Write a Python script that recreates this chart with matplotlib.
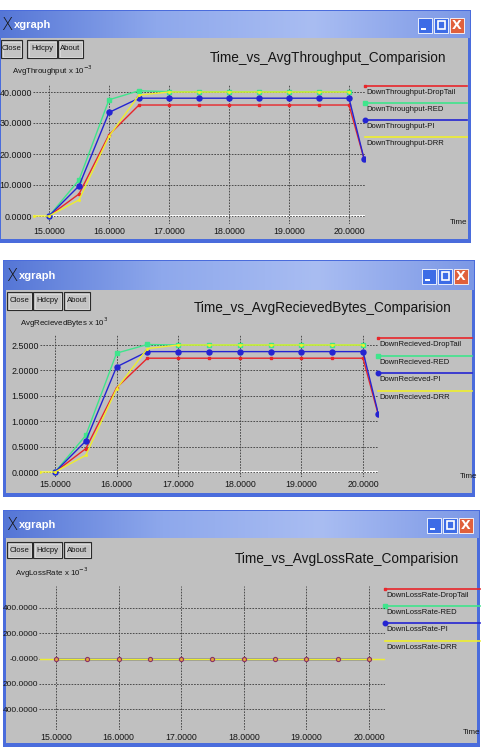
import numpy as np
import matplotlib
matplotlib.use("Agg")
import matplotlib.pyplot as plt
from matplotlib.patches import Rectangle
from matplotlib.lines import Line2D
from matplotlib.colors import LinearSegmentedColormap

W, H = 483, 751
NARROW = ["Liberation Sans Narrow", "Liberation Sans", "DejaVu Sans"]
nan = np.nan

# ---- data ----
time = [14.75, 15.0, 15.5, 16.0, 16.5, 17.0, 17.5, 18.0, 18.5, 19.0, 19.5, 20.0, 20.25]

tp_droptail = [nan, 0.0, 7.1, 26.2, 35.8, 35.8, 35.8, 35.8, 35.8, 35.8, 35.8, 35.8, 18.5]
tp_red      = [nan, 0.0, 11.6, 37.5, 40.4, 40.1, 40.1, 40.1, 40.1, 40.1, 40.1, 40.1, nan]
tp_pi       = [nan, 0.0, 9.7, 33.4, 38.0, 38.0, 38.0, 38.0, 38.0, 38.0, 38.0, 38.0, 18.5]
tp_drr      = [0.0, 0.0, 5.2, 25.7, 39.0, 40.0, 40.0, 40.0, 40.0, 40.0, 40.0, 40.0, nan]

rb_droptail = [nan, 0.0, 0.46, 1.66, 2.24, 2.24, 2.24, 2.24, 2.24, 2.24, 2.24, 2.24, 1.12]
rb_red      = [nan, 0.0, 0.72, 2.34, 2.51, 2.50, 2.50, 2.50, 2.50, 2.50, 2.50, 2.50, nan]
rb_pi       = [nan, 0.0, 0.61, 2.07, 2.37, 2.37, 2.37, 2.37, 2.37, 2.37, 2.37, 2.37, 1.14]
rb_drr      = [0.0, 0.0, 0.33, 1.64, 2.43, 2.50, 2.50, 2.50, 2.50, 2.50, 2.50, 2.50, nan]

lr_droptail = [nan, 0, 0, 0, 0, 0, 0, 0, 0, 0, 0, 0, nan]
lr_red      = [nan, 0, 0, 0, 0, 0, 0, 0, 0, 0, 0, 0, nan]
lr_pi       = [nan, 0, 0, 0, 0, 0, 0, 0, 0, 0, 0, 0, nan]
lr_drr      = [0, 0, 0, 0, 0, 0, 0, 0, 0, 0, 0, 0, 0]

x_ticks = [15, 16, 17, 18, 19, 20]
x_ticklabels = ["15.0000", "16.0000", "17.0000", "18.0000", "19.0000", "20.0000"]
tp_ticks = [0, 10, 20, 30, 40]
tp_ticklabels = ["0.0000", "10.0000", "20.0000", "30.0000", "40.0000"]
rb_ticks = [0, 0.5, 1.0, 1.5, 2.0, 2.5]
rb_ticklabels = ["0.0000", "0.5000", "1.0000", "1.5000", "2.0000", "2.5000"]
lr_ticks = [-400, -200, 0, 200, 400]
lr_ticklabels = ["400.0000", "200.0000", "-0.0000", "200.0000", "400.0000"]

schemes = ["DropTail", "RED", "PI", "DRR"]
colors = ["#e8262a", "#3fe58c", "#2424d2", "#eeee2c"]
markers = [("s", 2.0), ("s", 3.0), ("o", 3.6), ("o", 1.2)]

TXT = "#151515"

fig = plt.figure(figsize=(W / 100, H / 100), dpi=100)
fig.patch.set_facecolor("white")
bg = fig.add_axes([0, 0, 1, 1])
bg.set_autoscale_on(False)
bg.set_xlim(0, W)
bg.set_ylim(H, 0)
bg.axis("off")

bar_cmap = LinearSegmentedColormap.from_list("bar", ["#5576d6", "#8ea8ec", "#a9bdf2", "#7c98e6"])


def window(l, t, r, b, tb, buttons):
    bg.add_patch(Rectangle((l, t), r - l, b - t, fc="#4a6cdc", ec="none", zorder=0))
    grad = np.linspace(0, 1, 256).reshape(1, -1)
    bg.imshow(grad, cmap=bar_cmap, extent=(l + 1, r - 1, tb, t + 1), aspect="auto", zorder=1)
    bg.add_patch(Rectangle((l + 3, tb), r - l - 6, b - tb - 4, fc="#c0c0c0", ec="none", zorder=1))
    cy = (t + tb) / 2
    bg.text(l + 3, cy + 1, "X", fontsize=12, family="DejaVu Sans", fontweight="light",
            color="#151515", va="center", ha="left", zorder=3)
    bg.text(l + 16, cy + 1, "xgraph", fontsize=8, fontweight="bold", family=NARROW,
            color="white", va="center", ha="left", zorder=3)
    # title bar buttons
    bh = 15
    by = cy - bh / 2 + 1
    for i, kind in enumerate(["min", "max", "close"]):
        bx = r - 53 + i * 16
        fc = "#e0603c" if kind == "close" else "#3d6ce6"
        bg.add_patch(Rectangle((bx, by), 14, bh, fc=fc, ec="white", lw=0.6, zorder=3))
        if kind == "min":
            bg.add_patch(Rectangle((bx + 3, by + 10), 5, 2, fc="white", ec="none", zorder=4))
        elif kind == "max":
            bg.add_patch(Rectangle((bx + 3.5, by + 3.5), 7, 8, fc="none", ec="white", lw=1.2, zorder=4))
        else:
            bg.text(bx + 7, by + bh / 2 + 0.5, "X", color="white", fontsize=9, fontweight="bold",
                    ha="center", va="center", zorder=4, family="DejaVu Sans")
    # text buttons
    for name, (x0, x1, y0, y1) in buttons:
        bg.add_patch(Rectangle((x0, y0), x1 - x0, y1 - y0, fc="#c4c4c4", ec="#2a2a2a", lw=0.8, zorder=3))
        bg.add_patch(Rectangle((x0 + 1.5, y0 + 1.5), x1 - x0 - 3, y1 - y0 - 3, fc="none",
                               ec="#e8e8e8", lw=0.4, zorder=3))
        bg.text((x0 + x1) / 2, (y0 + y1) / 2, name, fontsize=5.6, family=NARROW, color=TXT,
                ha="center", va="center", zorder=4)


def px_axes(box, xmap, ymap):
    l, t, r, b = box
    ax = fig.add_axes([l / W, 1 - b / H, (r - l) / W, (b - t) / H])
    xd0, xp0, xd1, xp1 = xmap
    yd0, yp0, yd1, yp1 = ymap
    fx = lambda p: xd0 + (p - xp0) * (xd1 - xd0) / (xp1 - xp0)
    fy = lambda p: yd0 + (p - yp0) * (yd1 - yd0) / (yp1 - yp0)
    ax.set_xlim(fx(l), fx(r))
    ax.set_ylim(fy(b), fy(t))
    ax.set_facecolor("none")
    for s in ax.spines.values():
        s.set_visible(False)
    return ax


def panel(ax, series, yticks, yticklabels, zero_line=True, show_markers=True, ysize=6.4):
    ax.set_xticks(x_ticks)
    ax.set_xticklabels(x_ticklabels, family=NARROW, fontsize=6.3, color=TXT)
    ax.set_yticks(yticks)
    ax.set_yticklabels(yticklabels, family=NARROW, fontsize=ysize, color=TXT)
    ax.tick_params(length=0, pad=2)
    ax.tick_params(axis="y", pad=0.5)
    ax.grid(True, color="#3a3a3a", linestyle=(0, (2, 1.5)), linewidth=0.6)
    if zero_line:
        ax.axhline(0, color="white", lw=1.3, zorder=1)
    for vals, c, (m, ms) in zip(series, colors, markers):
        if show_markers:
            ax.plot(time, vals, color=c, lw=1.0, marker=m, ms=ms, mec=c, mfc=c, zorder=2)
        else:
            ax.plot(time, vals, color=c, lw=1.0, zorder=2)


def legend_block(x0, x1, ys, labels):
    for y, lab, c, (m, ms) in zip(ys, labels, colors, markers):
        bg.add_line(Line2D([x0, x1], [y, y], color=c, lw=1.2, zorder=3))
        if ms > 1.5:
            bg.add_line(Line2D([x0], [y], marker=m, ms=ms * 0.9, color=c, zorder=3))
        bg.text(x0 + 1, y + 6.5, lab, fontsize=5.5, family=NARROW, color=TXT,
                ha="left", va="center", zorder=3)


TITLE = 9.8
YLAB = 5.7

# ---- window 1: throughput ----
window(-2, 10, 471, 243, 38,
       [("Close", (1, 22, 40, 58)), ("Hdcpy", (27, 57, 40, 58)), ("About", (58, 83, 40, 58))])
bg.text(328, 58, "Time_vs_AvgThroughput_Comparision", fontsize=TITLE, family=NARROW,
        color=TXT, ha="center", va="center", zorder=3)
bg.text(12, 71, "AvgThroughput x 10$^{-3}$", fontsize=YLAB, family=NARROW, color=TXT,
        ha="left", va="center", zorder=3)
bg.text(459, 222, "Time", fontsize=5.8, family=NARROW, color=TXT, ha="center", va="center", zorder=3)
ax1 = px_axes((33, 84, 365, 224), (15, 49, 20, 349), (0, 216, 40, 92))
panel(ax1, [tp_droptail, tp_red, tp_pi, tp_drr], tp_ticks, tp_ticklabels)
legend_block(365, 467, [86, 103, 120, 137], ["DownThroughput-" + s for s in schemes])

# ---- window 2: received bytes ----
window(3, 260, 475, 497, 290,
       [("Close", (7, 32, 292, 310)), ("Hdcpy", (33, 62, 292, 310)), ("About", (64, 90, 292, 310))])
bg.text(323, 308, "Time_vs_AvgRecievedBytes_Comparision", fontsize=TITLE, family=NARROW,
        color=TXT, ha="center", va="center", zorder=3)
bg.text(20, 323, "AvgRecievedBytes x 10$^{3}$", fontsize=YLAB, family=NARROW, color=TXT,
        ha="left", va="center", zorder=3)
bg.text(469, 477, "Time", fontsize=5.8, family=NARROW, color=TXT, ha="center", va="center", zorder=3)
ax2 = px_axes((40, 335, 378, 477), (15, 55, 20, 363), (0, 472, 2.5, 345))
panel(ax2, [rb_droptail, rb_red, rb_pi, rb_drr], rb_ticks, rb_ticklabels)
legend_block(378, 472, [338, 356, 373, 391], ["DownRecieved-" + s for s in schemes])

# ---- window 3: loss rate ----
window(3, 510, 480, 747, 538,
       [("Close", (7, 32, 542, 558)), ("Hdcpy", (33, 62, 542, 558)), ("About", (64, 91, 542, 558))])
bg.text(347, 559, "Time_vs_AvgLossRate_Comparision", fontsize=TITLE, family=NARROW,
        color=TXT, ha="center", va="center", zorder=3)
bg.text(15, 573, "AvgLossRate x 10$^{-3}$", fontsize=YLAB, family=NARROW, color=TXT,
        ha="left", va="center", zorder=3)
bg.text(472, 732, "Time", fontsize=5.8, family=NARROW, color=TXT, ha="center", va="center", zorder=3)
ax3 = px_axes((39, 586, 385, 730), (15, 56, 20, 369), (0, 658.5, 400, 608))
panel(ax3, [lr_droptail, lr_red, lr_pi, lr_drr], lr_ticks, lr_ticklabels,
      zero_line=False, show_markers=False, ysize=6.0)
ax3.scatter(time, lr_pi, s=9, facecolors="#e0a040", edgecolors="#8c3264", linewidths=0.8, zorder=4)
legend_block(385, 480, [589, 606, 623, 641], ["DownLossRate-" + s for s in schemes])

fig.savefig("out.png", dpi=100)
